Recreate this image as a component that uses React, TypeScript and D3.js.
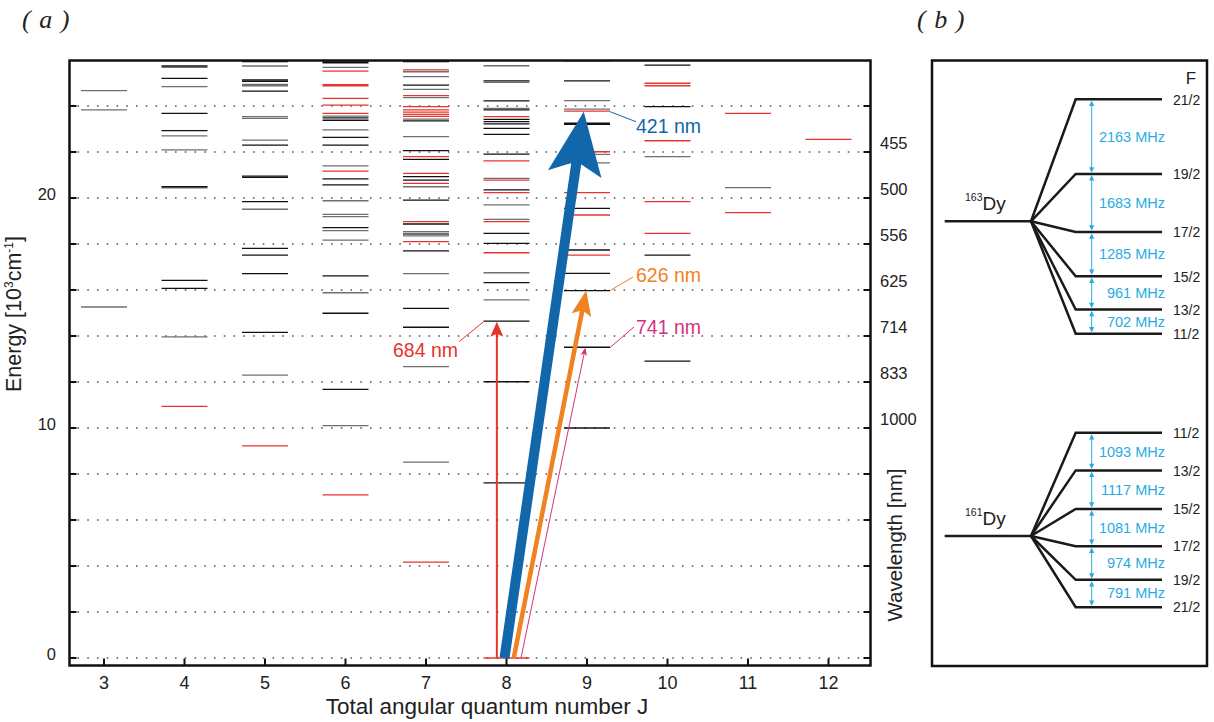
import React from "react";
import * as d3 from "d3";

const W = 1214;
const H = 722;

// ---------- Panel (a) data: [J, energy in 10^3 cm^-1] ----------
const levelsBlack: [number, number][] = [
  [4, 25.74], [4, 25.2], [4, 23.68], [4, 22.93], [4, 20.49], [4, 16.42], [4, 16.07],
  [5, 25.93], [5, 25.13], [5, 25.07], [5, 24.65], [5, 22.3], [5, 20.95], [5, 20.9], [5, 19.84], [5, 17.81], [5, 17.52], [5, 16.71], [5, 14.16],
  [6, 25.95], [6, 25.88], [6, 23.48], [6, 23.38], [6, 22.64], [6, 22.3], [6, 20.83], [6, 20.57], [6, 18.71], [6, 16.61], [6, 14.99], [6, 11.68],
  [7, 25.93], [7, 24.91], [7, 23.35], [7, 22.06], [7, 21.68], [7, 20.93], [7, 20.78], [7, 19.91], [7, 18.87], [7, 17.7], [7, 15.2], [7, 14.38],
  [8, 25.09], [8, 24.22], [8, 23.83], [8, 23.42], [8, 23.32], [8, 23.22], [8, 23.03], [8, 22.77], [8, 21.91], [8, 20.35], [8, 18.46], [8, 18.03], [8, 16.32], [8, 14.65], [8, 12.01], [8, 7.61],
  [9, 25.09], [9, 23.25], [9, 23.2], [9, 19.55], [9, 17.74], [9, 16.72], [9, 15.97], [9, 13.51], [9, 10.0],
  [10, 25.78], [10, 23.97], [10, 17.52], [10, 12.91],
];
const levelsGray: [number, number][] = [
  [3, 24.67], [3, 23.83], [3, 15.26],
  [4, 25.68], [4, 24.84], [4, 22.7], [4, 22.09], [4, 20.44], [4, 13.96],
  [5, 25.74], [5, 24.94], [5, 24.88], [5, 23.54], [5, 23.46], [5, 22.52], [5, 19.51], [5, 12.3],
  [6, 25.68], [6, 23.56], [6, 22.96], [6, 21.4], [6, 19.88], [6, 19.29], [6, 19.19], [6, 18.58], [6, 18.17], [6, 15.88], [6, 10.1],
  [7, 25.49], [7, 25.28], [7, 24.72], [7, 24.36], [7, 23.43], [7, 22.67], [7, 20.49], [7, 18.54], [7, 18.46], [7, 18.42], [7, 18.35], [7, 16.71], [7, 12.67], [7, 8.52],
  [8, 25.75], [8, 25.03], [8, 23.9], [8, 20.85], [8, 19.7], [8, 19.07], [8, 16.75], [8, 15.57],
  [9, 24.23], [9, 23.86], [9, 21.9], [9, 21.53],
  [10, 21.8],
  [11, 20.45],
];
const levelsRed: [number, number][] = [
  [4, 10.94],
  [5, 9.22],
  [6, 25.52], [6, 24.93], [6, 24.88], [6, 24.33], [6, 24.04], [6, 23.68], [6, 21.17], [6, 7.09],
  [7, 25.57], [7, 24.45], [7, 23.97], [7, 23.83], [7, 23.73], [7, 23.64], [7, 23.55], [7, 21.8], [7, 21.07], [7, 20.64], [7, 18.97], [7, 18.1], [7, 4.17],
  [8, 23.54], [8, 21.61], [8, 20.78], [8, 20.23], [8, 18.97], [8, 17.62], [8, 0],
  [9, 25.96], [9, 23.78], [9, 22.01], [9, 20.23], [9, 19.26], [9, 17.52],
  [10, 24.99], [10, 24.88], [10, 22.49], [10, 19.84], [10, 18.46],
  [11, 23.68], [11, 19.36],
  [12, 22.55],
];

const jTicks = [3, 4, 5, 6, 7, 8, 9, 10, 11, 12];
const energyGrid = [0, 2, 4, 6, 8, 10, 12, 14, 16, 18, 20, 22, 24];
const energyLabels = [0, 10, 20];
const wavelengthTickEnergies = [22, 20, 18, 16, 14, 12, 10];

// transitions (wavelength nm, J start, J end)
const transitionNm = [684, 421, 626, 741];
const transitionJStart = [7.88, 7.975, 8.09, 8.18];
const transitionJEnd = [7.88, 8.96, 8.99, 8.98];

// ---------- Panel (b) data ----------
const F163 = ["21/2", "19/2", "17/2", "15/2", "13/2", "11/2"];
const split163 = [2163, 1683, 1285, 961, 702];
const F161 = ["11/2", "13/2", "15/2", "17/2", "19/2", "21/2"];
const split161 = [1093, 1117, 1081, 974, 791];

// ---------- styles ----------
const SANS = "'Liberation Sans', Arial, Helvetica, sans-serif";
const SERIF = "'Liberation Serif', 'Times New Roman', serif";
const transStyle = [
  { color: "#e8332b", width: 2, head: 15, hw: 6.5, notch: 12, side: "left", lx: 458, ly: 357, lend: [459, 341.7] },
  { color: "#1266aa", width: 10, head: 63, hw: 27, notch: 50, side: "right", lx: 636, ly: 133, lend: [636, 121.7] },
  { color: "#f18222", width: 4.5, head: 25, hw: 10, notch: 20, side: "right", lx: 636, ly: 282, lend: [633, 277] },
  { color: "#d8307c", width: 1, head: 8, hw: 3.2, notch: 6, side: "right", lx: 636, ly: 334, lend: [634, 327] },
];

const xJ = d3.scaleLinear().domain([3, 12]).range([104, 828.5]);
const yE = d3.scaleLinear().domain([0, 26]).range([658, 60]);
const HALF = 0.2857;
const X0 = 69.5, X1 = 870.5, Y0 = 60.5, Y1 = 665.5;

function arrowParts(x0: number, y0: number, x1: number, y1: number, L: number, hw: number, notch: number) {
  const dx = x1 - x0, dy = y1 - y0;
  const len = Math.hypot(dx, dy);
  const ux = dx / len, uy = dy / len;
  const nx = -uy, ny = ux;
  const bx = x1 - L * ux, by = y1 - L * uy;
  const wl = [bx + hw * nx, by + hw * ny];
  const wr = [bx - hw * nx, by - hw * ny];
  const nt = [x1 - notch * ux, y1 - notch * uy];
  const head = `M${x1},${y1}L${wl[0]},${wl[1]}L${nt[0]},${nt[1]}L${wr[0]},${wr[1]}Z`;
  const shaftEnd = [x1 - (notch - 1) * ux, y1 - (notch - 1) * uy];
  return { head, shaftEnd };
}

function HyperfinePanel({ labels, splits, topY, centerY, iso, isoY }: any) {
  const hfY = d3.scaleLinear().domain([0, 1000]).range([topY, topY + 34.5]);
  const cum = [0];
  splits.forEach((s: number) => cum.push(cum[cum.length - 1] + s));
  const ys = cum.map((c) => hfY(c));
  const xc = 944.7, xf = 1031, xk = 1075.7, xe = 1162, xa = 1091.7;
  const cyan = "#29abe2";
  return (
    <g>
      <path d={`M${xc},${centerY}H${xf}`} stroke="#1a1a1a" strokeWidth={2.5} fill="none" />
      {ys.map((y, i) => (
        <path key={i} d={`M${xf},${centerY}L${xk},${y}H${xe}`} stroke="#1a1a1a" strokeWidth={2.5} fill="none" strokeLinejoin="miter" />
      ))}
      {ys.map((y, i) => (
        <text key={"f" + i} x={1173} y={y + 5.2} fontSize={14} fontFamily={SANS} fill="#222">{labels[i]}</text>
      ))}
      {splits.map((s: number, i: number) => {
        const ya = ys[i] + 1.2, yb = ys[i + 1] - 1.2;
        return (
          <g key={"s" + i}>
            <line x1={xa} x2={xa} y1={ya + 3} y2={yb - 3} stroke={cyan} strokeWidth={1} />
            <path d={`M${xa},${ya}L${xa - 2.6},${ya + 5.5}L${xa + 2.6},${ya + 5.5}Z`} fill={cyan} />
            <path d={`M${xa},${yb}L${xa - 2.6},${yb - 5.5}L${xa + 2.6},${yb - 5.5}Z`} fill={cyan} />
            <text x={1165} y={(ys[i] + ys[i + 1]) / 2 + 5} textAnchor="end" fontSize={14.5} fontFamily={SANS} fill={cyan}>
              {s} MHz
            </text>
          </g>
        );
      })}
      <text x={965} y={isoY} fontFamily={SANS} fill="#222">
        <tspan fontSize={10.5} dy={-9}>{iso}</tspan>
        <tspan fontSize={19} dy={9}>Dy</tspan>
      </text>
    </g>
  );
}

export default function App() {
  const renderLevels = (arr: [number, number][], color: string, key: string) =>
    arr.map(([j, e], i) => (
      <line key={key + i} x1={xJ(j - HALF)} x2={xJ(j + HALF)} y1={yE(e)} y2={yE(e)} stroke={color} strokeWidth={1.3} />
    ));

  return (
    <svg width={W} height={H} style={{ position: "absolute", left: 0, top: 0, background: "#fff" }}>
      <rect x={0} y={0} width={W} height={H} fill="#fff" />
      {/* panel titles */}
      <text x={22} y={28} fontFamily={SERIF} fontStyle="italic" fontSize={26} fill="#222" letterSpacing={1}>( a )</text>
      <text x={917} y={28} fontFamily={SERIF} fontStyle="italic" fontSize={26} fill="#222" letterSpacing={1}>( b )</text>

      {/* grid */}
      {energyGrid.map((e) => (
        <line key={"g" + e} x1={X0 + 8} x2={X1 - 3} y1={yE(e)} y2={yE(e)} stroke="#555" strokeWidth={1.6} strokeDasharray="1.6 8.15" />
      ))}

      {/* levels */}
      {renderLevels(levelsGray, "#6f6f6f", "lg")}
      {renderLevels(levelsBlack, "#111", "lb")}
      {renderLevels(levelsRed, "#e8352c", "lr")}

      {/* transitions */}
      {transitionNm.map((nm, i) => {
        const st = transStyle[i];
        const eTop = 1e4 / nm;
        const x0 = xJ(transitionJStart[i]), y0 = yE(0);
        const x1 = xJ(transitionJEnd[i]), y1 = yE(eTop);
        const a = arrowParts(x0, y0, x1, y1, st.head, st.hw, st.notch);
        const levelJ = st.side === "left" ? 8 : 9;
        const lx0 = st.side === "left" ? xJ(levelJ - HALF) : xJ(levelJ + HALF);
        return (
          <g key={"t" + i}>
            <line x1={x0} y1={y0} x2={a.shaftEnd[0]} y2={a.shaftEnd[1]} stroke={st.color} strokeWidth={st.width} />
            <path d={a.head} fill={st.color} />
            <line x1={lx0} y1={y1} x2={st.lend[0]} y2={st.lend[1]} stroke={st.color} strokeWidth={1} />
            <text x={st.lx} y={st.ly} textAnchor={st.side === "left" ? "end" : "start"} fontSize={19.5} fontFamily={SANS} fill={st.color}>
              {nm} nm
            </text>
          </g>
        );
      })}

      {/* ticks */}
      {energyGrid.map((e) => (
        <g key={"tk" + e}>
          <line x1={X0} x2={X0 + 7} y1={yE(e)} y2={yE(e)} stroke="#111" strokeWidth={2} />
          <line x1={X1 - 7} x2={X1} y1={yE(e)} y2={yE(e)} stroke="#111" strokeWidth={2} />
        </g>
      ))}
      {jTicks.map((j) => (
        <g key={"jt" + j}>
          <line x1={xJ(j)} x2={xJ(j)} y1={Y1} y2={Y1 - 7} stroke="#111" strokeWidth={2} />
          <text x={xJ(j)} y={689} textAnchor="middle" fontSize={18} fontFamily={SANS} fill="#222">{j}</text>
        </g>
      ))}
      {energyLabels.map((e) => (
        <text key={"el" + e} x={56} y={yE(e) + 1.5} textAnchor="end" fontSize={16.5} fontFamily={SANS} fill="#222">{e}</text>
      ))}
      {wavelengthTickEnergies.map((e) => (
        <text key={"wl" + e} x={880} y={yE(e) - 3} fontSize={16.5} fontFamily={SANS} fill="#222">{Math.round(1e4 / e)}</text>
      ))}

      {/* frame */}
      <rect x={X0} y={Y0} width={X1 - X0} height={Y1 - Y0} fill="none" stroke="#111" strokeWidth={2.5} />

      {/* axis titles */}
      <text x={487} y={714} textAnchor="middle" fontSize={22.5} fontFamily={SANS} fill="#222">Total angular quantum number J</text>
      <text transform="translate(20.5,314) rotate(-90)" textAnchor="middle" fontSize={21.5} fontFamily={SANS} fill="#222">
        Energy [10<tspan fontSize={12} dy={-8}>3</tspan><tspan dy={8}>cm</tspan><tspan fontSize={12} dy={-8}>-1</tspan><tspan dy={8}>]</tspan>
      </text>
      <text transform="translate(902,545) rotate(-90)" textAnchor="middle" fontSize={20.5} fontFamily={SANS} fill="#222">Wavelength [nm]</text>

      {/* panel b */}
      <rect x={932} y={60.5} width={275} height={605.5} fill="none" stroke="#111" strokeWidth={2.5} />
      <text x={1191} y={84} textAnchor="middle" fontSize={17} fontFamily={SANS} fill="#222">F</text>
      <HyperfinePanel labels={F163} splits={split163} topY={99.3} centerY={221.3} iso="163" isoY={210} />
      <HyperfinePanel labels={F161} splits={split161} topY={432.7} centerY={536} iso="161" isoY={525} />
    </svg>
  );
}
